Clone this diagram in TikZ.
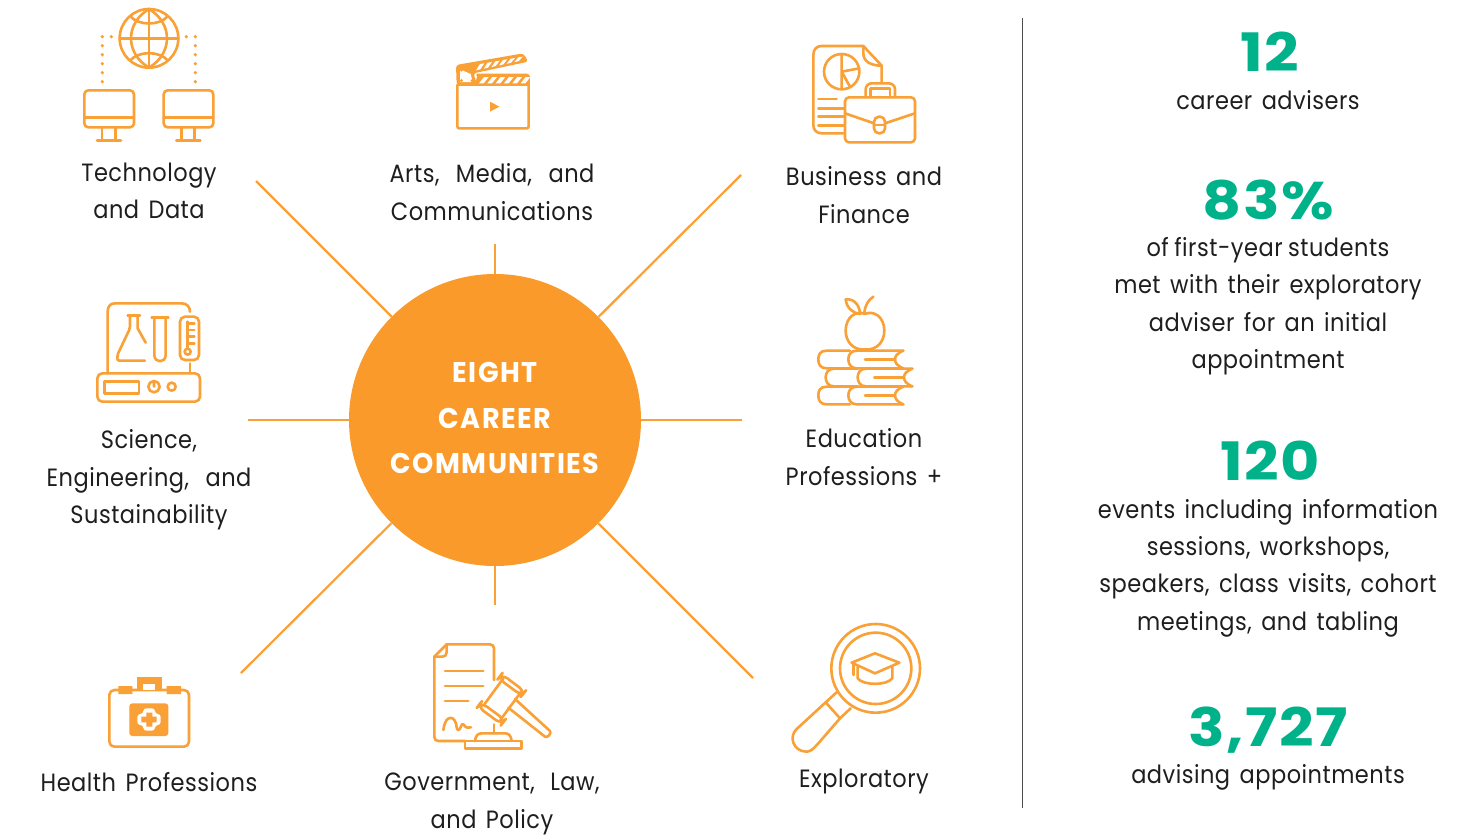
\documentclass[tikz,border=0pt]{standalone}
\usepackage{fontspec}
\setmainfont[FakeStretch=0.9,LetterSpace=2,WordSpace=1.45]{Poppins}
\newfontfamily\numfont[FakeStretch=1.14,LetterSpace=3]{Poppins}
\newfontfamily\hubfont[FakeStretch=0.95,LetterSpace=5]{Poppins}
\definecolor{orangeA}{HTML}{F99A2A}
\definecolor{orangeB}{HTML}{F9A036}
\definecolor{greenA}{HTML}{00B28A}
\definecolor{txt}{HTML}{1E1E1E}
\tikzset{
  lab/.style={align=center,text=txt,inner sep=0pt,font=\fontsize{25}{37.4}\selectfont},
  big/.style={align=center,text=greenA,inner sep=0pt,font=\numfont\bfseries\fontsize{53}{53}\selectfont},
  hubt/.style={text=white,inner sep=0pt,font=\hubfont\bfseries\fontsize{28.5}{30}\selectfont},
  ray/.style={orangeB,line width=2.2pt},
  ic/.style={orangeB,line width=2.6pt,line cap=round,line join=round},
}
\begin{document}
\begin{tikzpicture}[x=1pt,y=-1pt]
\useasboundingbox (0,0) rectangle (1459,838);
\fill[white] (0,0) rectangle (1459,838);
% hub and rays
\node[circle,fill=orangeA,minimum size=292pt,inner sep=0pt] (hub) at (495,420) {};
\foreach \n/\x/\y in {a/256/181,b/495/244,c/741/175,d/248/420,e/742/420,f/241/673,g/495/605,h/753/678}{
  \coordinate (r\n) at (\x,\y);
  \draw[ray] (hub) -- (r\n);
}
\node[hubt] (h1) at (495,372) {EIGHT};
\node[hubt] (h2) at (495,418) {CAREER};
\node[hubt] (h3) at (495,463) {COMMUNITIES};
% divider
\coordinate (dt) at (1022,18); \coordinate (db) at (1022,808);
\draw[black!70,line width=1pt] (dt) -- (db);
% labels
\node[lab] (l1) at (149,191) {Technology\\and Data};
\node[lab] (l2) at (492,192) {Arts,\hspace{7pt} Media,\hspace{7pt} and\\Communications};
\node[lab] (l3) at (864,195) {Business and\\Finance};
\node[lab] (l4) at (149,480) {Science,\\Engineering,\hspace{7pt} and\\Sustainability};
\node[lab] (l5) at (864,457) {Education\\Professions +};
\node[lab] (l6) at (149,782) {Health Professions};
\node[lab] (l7) at (492,804) {Government,\hspace{6pt} Law,\\and Policy};
\node[lab] (l8) at (864,781) {Exploratory};
% stats
\node[big] (s1) at (1270,52) {12};
\node[lab] (t1) at (1268,100) {career advisers};
\node[big] (s2) at (1268,200) {83\%};
\node[lab] (t2) at (1268,306) {of\hspace{-4pt} first-year\hspace{-4pt} students\\met with their exploratory\\adviser for an initial\\appointment};
\node[big] (s3) at (1270,461) {120};
\node[lab] (t3) at (1268,568) {events including information\\sessions, workshops,\\speakers, class visits, cohort\\meetings, and tabling};
\node[big] (s4) at (1268,730) {3,727};
\node[lab] (t4) at (1268,777) {advising appointments};
% icon: technology
\begin{scope}[shift={(70,0)},scale=1/3,ic]
 \draw (237,115) circle[radius=88];
 \draw (237,27) -- (237,203) (149,115) -- (325,115);
 \draw (237,27) .. controls (165,70) and (165,160) .. (237,203);
 \draw (237,27) .. controls (309,70) and (309,160) .. (237,203);
 \draw (180,48) .. controls (205,78) and (269,78) .. (294,48);
 \draw (180,182) .. controls (205,152) and (269,152) .. (294,182);
 \foreach \x/\y in {97/110,124/110,97/137,97/164,97/191,97/218,97/245,376/110,349/110,376/137,376/164,376/191,376/218,376/245}
   \fill (\x,\y) circle[radius=5.5];
 \foreach \d in {0,238}{
  \begin{scope}[shift={(\d,0)}]
   \draw[rounded corners=4pt] (43,271) rectangle (192,382);
   \draw (43,352) -- (192,352);
   \draw (96,382) -- (96,421) (136,382) -- (136,421) (81,421) -- (153,421);
  \end{scope}}
\end{scope}
% icon: clapper
\begin{scope}[shift={(440,40)},scale=1/3,ic]
 \draw[rounded corners=2pt] (52,135) -- (52,265) -- (266,265) -- (266,105) -- (112,105);
 \draw (52,135) -- (266,135);
 \fill (150,185) -- (178,200) -- (150,215) -- cycle;
 \fill[rounded corners=3pt] (48,75) -- (250,40) -- (265,65) -- (100,100) -- (112,135) -- (50,135) -- cycle;
 \fill[white] (60,88) -- (92,102) -- (98,126) -- (60,126) -- cycle;
 \fill (64,90) circle[radius=5] (64,122) circle[radius=5] (96,122) circle[radius=5];
 \fill (112,105) -- (266,105) -- (266,135) -- (105,135) -- cycle;
 \foreach \x in {0,1,2,3,4,5}{
   \fill[white] ({117+\x*25},130) -- ({132+\x*25},111) -- ({146+\x*25},111) -- ({131+\x*25},130) -- cycle;
   \fill[white] ({108+\x*23},{91-\x*4.9}) -- ({120+\x*23},{72-\x*4}) -- ({133+\x*23},{70-\x*4}) -- ({121+\x*23},{88-\x*4.9}) -- cycle;
 }
\end{scope}
% icon: business
\begin{scope}[shift={(800,35)},scale=1/3,ic]
 \draw (130,295) -- (65,295) .. controls (50,295) and (40,285) .. (40,270) -- (40,60) .. controls (40,43) and (50,33) .. (65,33) -- (190,33) -- (245,92) -- (245,140);
 \draw (190,33) -- (190,55) .. controls (190,78) and (210,92) .. (245,92);
 \draw (125,110) circle[radius=53];
 \draw (125,58) -- (125,160) (125,110) -- (178,100) (125,110) -- (150,155);
 \draw (55,192) -- (110,192) (55,220) -- (130,220) (55,245) -- (130,245) (55,272) -- (130,272);
 \draw[rounded corners=4pt] (135,187) rectangle (345,322);
 \draw[rounded corners=6pt] (197,187) -- (197,145) -- (285,145) -- (285,187);
 \draw (212,187) -- (212,160) -- (270,160) -- (270,187);
 \draw (135,235) -- (222,265) (345,235) -- (255,265);
 \draw[rounded corners=5pt] (222,245) rectangle (255,295);
 \draw (222,270) -- (255,270);
\end{scope}
% icon: science
\begin{scope}[shift={(85,295)},scale=1/3,ic]
 \draw (68,232) -- (68,50) .. controls (68,35) and (75,25) .. (90,25) -- (290,25) .. controls (305,25) and (315,35) .. (315,50);
 \draw (315,205) -- (315,232);
 \draw[rounded corners=5pt] (37,235) rectangle (345,320);
 \draw (58,260) rectangle (162,295);
 \draw (207,275) circle[radius=17] (207,258) -- (207,275);
 \draw (260,275) circle[radius=12];
 \draw (128,62) -- (165,62);
 \draw[rounded corners=2pt] (135,62) -- (135,100) -- (97,180) -- (97,197) -- (180,197);
 \draw (158,62) -- (158,100) -- (182,143);
 \draw (200,68) -- (250,68);
 \draw (208,68) -- (208,180) .. controls (208,205) and (242,205) .. (242,180) -- (242,68);
 \draw[rounded corners=5pt] (285,65) rectangle (342,195);
 \draw (308,170) circle[radius=9];
 \draw (308,161) -- (308,80);
 \foreach \y/\l in {85/15,105/15,125/15,145/15}\draw (313,\y) -- ++(\l,0);
\end{scope}
% icon: education
\begin{scope}[shift={(805,290)},scale=1/3,ic]
 \draw (180,72) .. controls (155,60) and (122,80) .. (122,122) .. controls (122,155) and (145,182) .. (180,178) .. controls (215,182) and (238,155) .. (238,122) .. controls (238,80) and (205,60) .. (180,72);
 \draw (178,70) .. controls (180,45) and (190,30) .. (205,20);
 \draw (122,28) .. controls (150,25) and (165,50) .. (165,72) .. controls (145,70) and (125,55) .. (122,28);
 \foreach \yy/\a/\b/\c/\m in {182/40/130/295/180,290/40/130/295/180}{
  \begin{scope}[shift={(0,\yy)}]
   \draw (\a+95,0) -- (\a+25,0) .. controls (\a+5,0) and (\a,12) .. (\a,26) .. controls (\a,40) and (\a+5,53) .. (\a+25,53) -- (\a+95,53);
   \draw (\c,0) -- (\b+25,0) .. controls (\b+8,0) and (\b,12) .. (\b,26) .. controls (\b,40) and (\b+8,53) .. (\b+25,53) -- (\c,53);
   \draw (\c,0) .. controls (\c-20,8) and (\c-25,18) .. (\c-25,26) .. controls (\c-25,35) and (\c-20,45) .. (\c,53);
   \draw (\m,26) -- (\c-25,26);
  \end{scope}}
 \begin{scope}[shift={(0,236)}]
   \draw (158,0) -- (87,0) .. controls (70,0) and (62,12) .. (62,26) .. controls (62,40) and (70,53) .. (87,53) -- (158,53);
   \draw (322,0) -- (183,0) .. controls (166,0) and (158,12) .. (158,26) .. controls (158,40) and (166,53) .. (183,53) -- (322,53);
   \draw (322,0) .. controls (302,8) and (297,18) .. (297,26) .. controls (297,35) and (302,45) .. (322,53);
   \draw (208,26) -- (297,26);
 \end{scope}
\end{scope}
% icon: health
\begin{scope}[shift={(100,670)},scale=1/3,ic]
 \draw[rounded corners=5pt] (28,60) rectangle (267,230);
 \fill (110,20) rectangle (187,60);
 \fill[white] (130,42) rectangle (165,60);
 \fill (55,48) rectangle (97,72) (200,48) rectangle (243,72);
 \fill[rounded corners=3pt] (88,100) rectangle (205,198);
 \fill[white,rounded corners=3pt] (130,115) -- (165,115) -- (165,132) -- (182,132) -- (182,165) -- (165,165) -- (165,182) -- (130,182) -- (130,165) -- (112,165) -- (112,132) -- (130,132) -- cycle;
 \fill (139,128) -- (157,128) -- (157,140) -- (170,140) -- (170,157) -- (157,157) -- (157,170) -- (139,170) -- (139,157) -- (124,157) -- (124,140) -- (139,140) -- cycle;
\end{scope}
% icon: government
\begin{scope}[shift={(425,635)},scale=1/3,ic]
 \draw (120,318) -- (40,318) .. controls (32,318) and (28,313) .. (28,305) -- (28,65) -- (65,28) -- (195,28) .. controls (203,28) and (207,33) .. (207,40) -- (207,135);
 \draw (65,28) -- (65,52) .. controls (65,60) and (60,65) .. (52,65) -- (28,65);
 \draw (207,268) -- (207,295);
 \draw (60,108) -- (175,108) (60,153) -- (175,153) (60,198) -- (130,198);
 \draw (55,285) .. controls (60,250) and (75,240) .. (88,255) .. controls (98,268) and (92,285) .. (100,285) .. controls (108,285) and (108,262) .. (115,268) .. controls (120,275) and (122,280) .. (138,277);
 \draw[rounded corners=7pt] (230,117) -- (300,170) -- (290,182) -- (220,130) -- cycle;
 \draw[rounded corners=7pt] (168,202) -- (240,255) -- (230,268) -- (158,215) -- cycle;
 \draw (235,130) -- (178,208) (285,175) -- (226,255);
 \draw (270,192) -- (375,288) .. controls (380,295) and (368,310) .. (360,305) -- (250,218);
 \draw (150,318) .. controls (152,300) and (160,295) .. (170,295) -- (240,295) .. controls (250,295) and (258,300) .. (260,318);
 \draw (120,318) rectangle (290,340);
\end{scope}
% icon: exploratory
\begin{scope}[shift={(785,615)},scale=1/3,ic]
 \draw (272,160) circle[radius=133] (272,160) circle[radius=107];
 \draw (200,143) -- (270,115) -- (343,143) -- (270,175) -- cycle;
 \draw (205,143) -- (205,180);
 \draw (218,155) -- (218,190) .. controls (235,212) and (305,212) .. (322,190) -- (322,155);
 \draw (155,232) -- (122,262) (197,280) -- (165,310) (122,262) -- (165,310);
 \draw (122,262) -- (35,342) .. controls (10,365) and (25,410) .. (65,410) .. controls (80,410) and (90,395) .. (100,385) -- (165,310);
\end{scope}
\end{tikzpicture}
\end{document}
